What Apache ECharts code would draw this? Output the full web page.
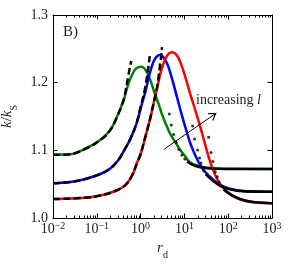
<!DOCTYPE html>
<html><head><meta charset="utf-8">
<script src="https://cdn.jsdelivr.net/npm/echarts@6/dist/echarts.min.js"></script>
<style>html,body{margin:0;padding:0;background:#fff}#c{width:290px;height:264px}</style>
</head><body><div id="c"></div>
<script>
// ---- data (r_d, k/k_S) ----
const xTickExps = [-2, -1, 0, 1, 2, 3];
const yTicks = [1.0, 1.1, 1.2, 1.3];

const greenR = [0.01,0.0209,0.05,0.12,0.203,0.289,0.409,0.532,0.692,0.818,0.984,1.153,1.349,1.665,2.056,2.535,3.125,3.861,4.76,6.2,8.06,10.5,13.6,19.7,30,66.1,1000];
const greenK = [1.0935,1.0937,1.1012,1.1152,1.13,1.1496,1.1743,1.199,1.2161,1.2216,1.2235,1.2223,1.2171,1.2038,1.1861,1.1699,1.1521,1.1374,1.1241,1.1123,1.1004,1.0908,1.082,1.0775,1.0746,1.0728,1.0724];

const blueR = [0.01,0.0248,0.0546,0.12,0.203,0.31,0.425,0.582,0.798,1.038,1.28,1.582,1.95,2.282,2.716,3.299,4.07,5.02,6.78,8.49,11.0,13.6,19.4,27.4,46.4,78.5,145,320,1000];
const blueK = [1.0513,1.0532,1.0576,1.065,1.0731,1.0857,1.1004,1.1167,1.1388,1.1654,1.1861,1.2112,1.2304,1.2378,1.2408,1.2378,1.2275,1.2097,1.1787,1.1551,1.13,1.1108,1.0871,1.0709,1.0561,1.0465,1.0414,1.0391,1.0388];

const redR = [0.01,0.042,0.12,0.264,0.448,0.647,0.841,0.984,1.28,1.665,2.056,2.471,2.972,3.664,4.406,5.29,6.53,8.06,10.5,13.6,17.7,23.1,30,39,55.5,78.5,112,189,416,1000];
const redK = [1.0281,1.0295,1.0332,1.0399,1.0487,1.0635,1.0827,1.0931,1.1196,1.1477,1.1743,1.1965,1.2186,1.2349,1.243,1.2448,1.2415,1.2304,1.2083,1.1832,1.1595,1.1344,1.1078,1.0827,1.0576,1.0436,1.0355,1.0273,1.0229,1.0219];

// small-r approximations (dashed)
const greenSmallR = [0.01,0.0209,0.05,0.12,0.203,0.289,0.409,0.467,0.524,0.566,0.614];
const greenSmallK = [1.0935,1.0937,1.1012,1.1152,1.13,1.1496,1.1743,1.192,1.2097,1.2216,1.2319];
const blueSmallR = [0.01,0.0248,0.0546,0.12,0.203,0.31,0.425,0.582,0.798,1.011,1.213,1.386,1.538,1.622];
const blueSmallK = [1.0513,1.0532,1.0576,1.065,1.0731,1.0857,1.1004,1.1167,1.1388,1.1654,1.1861,1.2068,1.2275,1.2393];
const redSmallR = [0.01,0.042,0.12,0.264,0.448,0.647,0.841,0.984,1.28,1.665,2.056,2.366,2.604,2.816,2.972,3.08];
const redSmallK = [1.0281,1.0295,1.0332,1.0399,1.0487,1.0635,1.0827,1.0931,1.1196,1.1477,1.1743,1.192,1.2112,1.229,1.2408,1.2526];

// large-r approximations (dotted): separate dots, then dense part
const greenDotR = [4.52,5.02,5.66,6.46,7.45,8.72,10.2];
const greenDotK = [1.1536,1.1374,1.1233,1.1115,1.1012,1.0931,1.0871];
const greenDenseR = [11.6,13.6,17.7,23.1,39,85.9,1000];
const greenDenseK = [1.0835,1.0805,1.0771,1.0749,1.0731,1.0724,1.0724];
const blueDotR = [15.4,17.1,20.0,22.2,23.9,25.6,27.7];
const blueDotK = [1.1359,1.1167,1.1004,1.0886,1.0812,1.0753,1.0694];
const blueDenseR = [30.8,39,50.7,66.1,112,246,1000];
const blueDenseK = [1.065,1.0583,1.0524,1.0473,1.0421,1.0394,1.0388];
const redDotR = [35.7,40.5,44.7,50.7,56.4,62.6,70.6];
const redDotK = [1.1192,1.0967,1.0835,1.0684,1.061,1.0532,1.0468];
const redDenseR = [79.4,100.5,145,246,416,1000];
const redDenseK = [1.0421,1.0369,1.031,1.0258,1.0232,1.0219];

// arrow annotation (data coords)
const arrowFrom = [3.48, 1.1019];
const arrowTo = [53.5, 1.1551];

// minor tick positions on log axis
const minorTickR = [];
for (let e = -2; e <= 2; e++) for (let m = 2; m <= 9; m++) minorTickR.push(m * Math.pow(10, e));

const zip = (a, b) => a.map((v, i) => [v, b[i]]);
const FONT = 'Liberation Serif';

const chart = echarts.init(document.getElementById('c'), null, {renderer: 'canvas'});

const SM = 0.45;
const solid = (name, r, k, color) => ({
  name, type: 'line', data: zip(r, k), showSymbol: false, smooth: SM,
  lineStyle: {color, width: 2.5}, z: 2, silent: true
});
const dashed = (r, k) => ({
  type: 'line', data: zip(r, k), showSymbol: false, smooth: SM,
  lineStyle: {color: '#000', width: 2.5, type: [7, 3.3]}, z: 3, silent: true
});
const dots = (r, k) => ({
  type: 'scatter', data: zip(r, k), symbol: 'circle', symbolSize: 3,
  itemStyle: {color: '#000'}, z: 4, silent: true
});
const dense = (r, k) => ({
  type: 'line', data: zip(r, k), showSymbol: false, smooth: SM,
  lineStyle: {color: '#000', width: 2.6}, z: 4, silent: true
});

const arrowPath = 'path://M0,-10L0,-10ZM0,0L6,9L5,10.2L0,2.6L-5,10.2L-6,9Z';

const option = {
  animation: false,
  backgroundColor: '#fff',
  grid: {left: 53, right: 18, top: 15, bottom: 46, containLabel: false, outerBoundsMode: 'none'},
  xAxis: [{
    type: 'log', logBase: 10, min: 0.01, max: 1000, position: 'bottom',
    axisLine: {show: true, lineStyle: {color: '#000', width: 1}},
    axisTick: {show: true, inside: true, length: 4.5, lineStyle: {color: '#000'}},
    splitLine: {show: false},
    axisLabel: {
      margin: 3, color: '#222', fontFamily: FONT,
      formatter: v => {
        const e = Math.round(Math.log10(v));
        const s = String(e).replace('-', '\u2212');
        return '{b|10}{s|' + s + '}';
      },
      rich: {
        b: {fontFamily: FONT, fontSize: 14, lineHeight: 16, color: '#222'},
        s: {fontFamily: FONT, fontSize: 10, lineHeight: 10, verticalAlign: 'top', color: '#222'}
      }
    },
    name: '{i|r}{s|d}', nameLocation: 'middle', nameGap: 23,
    nameTextStyle: {
      rich: {
        i: {fontFamily: FONT, fontStyle: 'italic', fontSize: 15, lineHeight: 16, verticalAlign: 'top', color: '#222'},
        s: {fontFamily: FONT, fontSize: 10, lineHeight: 19, verticalAlign: 'bottom', color: '#222'}
      }
    }
  }, {
    type: 'log', logBase: 10, min: 0.01, max: 1000, position: 'top',
    axisLine: {show: true, lineStyle: {color: '#000', width: 1}},
    axisTick: {show: true, inside: true, length: 4.5, lineStyle: {color: '#000'}},
    axisLabel: {show: false}, splitLine: {show: false}
  }],
  yAxis: [{
    type: 'value', min: 1.0, max: 1.3, interval: 0.1, position: 'left',
    axisLine: {show: true, lineStyle: {color: '#000', width: 1}},
    axisTick: {show: true, inside: true, length: 4.5, lineStyle: {color: '#000'}},
    splitLine: {show: false},
    axisLabel: {margin: 5, color: '#222', fontFamily: FONT, fontSize: 14,
      formatter: v => (yTicks.some(t => Math.abs(t - v) < 1e-6) ? v.toFixed(1) : '')},
    name: '{i|k}{n|/}{i|k}{s|S}', nameLocation: 'middle', nameGap: 30, nameRotate: 90,
    nameTextStyle: {
      rich: {
        i: {fontFamily: FONT, fontStyle: 'italic', fontSize: 15, lineHeight: 16, verticalAlign: 'top', color: '#222'},
        n: {fontFamily: FONT, fontSize: 15, lineHeight: 16, verticalAlign: 'top', color: '#222'},
        s: {fontFamily: FONT, fontSize: 10, lineHeight: 20, verticalAlign: 'bottom', color: '#222'}
      }
    }
  }, {
    type: 'value', min: 1.0, max: 1.3, interval: 0.1, position: 'right',
    axisLine: {show: true, lineStyle: {color: '#000', width: 1}},
    axisTick: {show: true, inside: true, length: 4.5, lineStyle: {color: '#000'}},
    axisLabel: {show: false}, splitLine: {show: false}
  }],
  graphic: [
    {type: 'text', left: 63, top: 25, style: {text: 'B)', font: '15px "Liberation Serif"', fill: '#222'}},
    {type: 'text', left: 196, top: 93, style: {
      text: '{n|increasing }{i|l}',
      rich: {
        n: {fontFamily: FONT, fontSize: 14, fill: '#222', lineHeight: 16},
        i: {fontFamily: FONT, fontSize: 14, fontStyle: 'italic', fill: '#222', lineHeight: 16}
      }}}
  ],
  series: [
    {
      type: 'custom', silent: true, z: 5, clip: false,
      data: minorTickR.map(r => [r, 1.0]),
      renderItem: (params, api) => {
        const r = api.value(0);
        const b = api.coord([r, 1.0]);
        const t = api.coord([r, 1.3]);
        const x = Math.round(b[0]) + 0.5;
        return {type: 'group', children: [
          {type: 'line', shape: {x1: x, y1: b[1], x2: x, y2: b[1] - 2.5}, style: {stroke: '#000', lineWidth: 1}},
          {type: 'line', shape: {x1: x, y1: t[1], x2: x, y2: t[1] + 2.5}, style: {stroke: '#000', lineWidth: 1}}
        ]};
      }
    },
    Object.assign(solid('g', greenR, greenK, '#008000'), {
      markLine: {
        silent: true, symbol: ['none', arrowPath], symbolSize: [9, 15],
        label: {show: false}, lineStyle: {color: '#000', width: 1, type: 'solid'},
        data: [[{coord: arrowFrom}, {coord: arrowTo}]]
      }
    }),
    solid('b', blueR, blueK, '#0000ff'),
    solid('r', redR, redK, '#ff0000'),
    dashed(greenSmallR, greenSmallK),
    dashed(blueSmallR, blueSmallK),
    dashed(redSmallR, redSmallK),
    dots(greenDotR, greenDotK), dense(greenDenseR, greenDenseK),
    dots(blueDotR, blueDotK), dense(blueDenseR, blueDenseK),
    dots(redDotR, redDotK), dense(redDenseR, redDenseK)
  ]
};
chart.setOption(option);
</script>
</body></html>
